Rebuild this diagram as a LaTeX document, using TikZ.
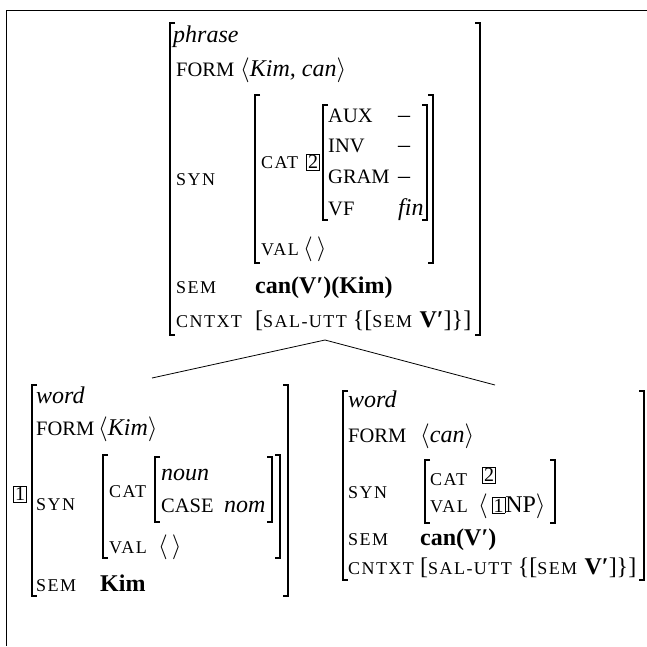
\documentclass[tikz,border=0pt]{standalone}
\usepackage{fontspec}
\setmainfont{Liberation Serif}
\newfontfamily\smcfont{Liberation Serif}[LetterSpace=8]
\usetikzlibrary{calc}
\def\ft#1{{\fontsize{20.5}{24}\selectfont #1}}
\def\smc#1{{\smcfont\fontsize{18}{20}\selectfont #1}}
\def\ang#1{$\langle$#1$\rangle$}
\def\tagbox#1{{\setlength{\fboxsep}{1pt}\setlength{\fboxrule}{0.7pt}\fbox{\fontsize{20}{20}\selectfont #1}}}
\def\lbr#1#2#3{\draw[brk] (#1+5,#2) -- (#1,#2) -- (#1,#3) -- (#1+5,#3);}
\def\rbr#1#2#3{\draw[brk] (#1-5,#2) -- (#1,#2) -- (#1,#3) -- (#1-5,#3);}

\begin{document}
\begin{tikzpicture}[x=1pt,y=-1pt,
  brk/.style={line width=1.1pt},
  lbl/.style={anchor=base west,inner sep=0pt,font=\fontsize{24}{28}\selectfont},
  tag/.style={inner sep=0pt}]
\useasboundingbox (0,0) rectangle (647,646);
\draw[line width=0.8pt] (6,646) -- (6,10) -- (647,10);
% mother: phrase
\lbr{170}{23}{335} \rbr{480}{23}{335}
\node[lbl] (m-type) at (173,42) {\itshape phrase};
\node[lbl] (m-form) at (176,76) {\ft{FORM}};
\node[lbl] (m-formv) at (240,76) {\ang{\itshape Kim, can}};
\node[lbl] (m-syn) at (176,185) {\smc{SYN}};
\lbr{255}{95}{263} \rbr{433}{95}{263}
\node[lbl] (m-cat) at (261,168) {\smc{CAT}};
\node[tag] (m-tag2) at (313,162) {\tagbox{2}};
\lbr{323}{105}{220} \rbr{427}{105}{220}
\node[lbl] (m-aux) at (328,122) {\ft{AUX}};
\node[lbl] (m-inv) at (328,152) {\ft{INV}};
\node[lbl] (m-gram) at (328,183) {\ft{GRAM}};
\node[lbl] (m-vf) at (328,215) {\ft{VF}};
\node[lbl] (m-auxv) at (398,122) {--};
\node[lbl] (m-invv) at (398,152) {--};
\node[lbl] (m-gramv) at (398,183) {--};
\node[lbl] (m-vfv) at (398,215) {\itshape fin};
\node[lbl] (m-val) at (261,255) {\smc{VAL}};
\node[lbl] (m-valv) at (303,255) {\ang{\,}};
\node[lbl] (m-sem) at (176,293) {\smc{SEM}};
\node[lbl] (m-semv) at (255,293) {\bfseries can(V′)(Kim)};
\node[lbl] (m-ctx) at (176,327) {\smc{CNTXT}};
\node[lbl] (m-ctxv) at (255,327) {[\smc{SAL-UTT} \{[\smc{SEM} \textbf{V′}]\}]};
% daughter: Kim
\lbr{32}{385}{596} \rbr{288}{385}{596}
\node[tag] (k-tag1) at (20,494) {\tagbox{1}};
\node[lbl] (k-type) at (36,403) {\itshape word};
\node[lbl] (k-form) at (36,435) {\ft{FORM}};
\node[lbl] (k-formv) at (98,435) {\ang{\itshape Kim}};
\node[lbl] (k-syn) at (36,510) {\smc{SYN}};
\lbr{103}{455}{558} \rbr{280}{455}{558}
\node[lbl] (k-cat) at (109,497) {\smc{CAT}};
\lbr{155}{457}{522} \rbr{272}{457}{522}
\node[lbl] (k-noun) at (161,480) {\itshape noun};
\node[lbl] (k-case) at (161,512) {\ft{CASE}};
\node[lbl] (k-casev) at (224,512) {\itshape nom};
\node[lbl] (k-val) at (109,553) {\smc{VAL}};
\node[lbl] (k-valv) at (158,553) {\ang{\,}};
\node[lbl] (k-sem) at (36,591) {\smc{SEM}};
\node[lbl] (k-semv) at (100,591) {\bfseries Kim};
% daughter: can
\lbr{343}{391}{580} \rbr{644}{391}{580}
\node[lbl] (c-type) at (348,407) {\itshape word};
\node[lbl] (c-form) at (348,442) {\ft{FORM}};
\node[lbl] (c-formv) at (420,442) {\ang{\itshape can}};
\node[lbl] (c-syn) at (348,498) {\smc{SYN}};
\lbr{425}{460}{523} \rbr{555}{460}{523}
\node[lbl] (c-cat) at (430,485) {\smc{CAT}};
\node[tag] (c-tag2) at (489,475) {\tagbox{2}};
\node[lbl] (c-val) at (430,512) {\smc{VAL}};
\node[lbl] (c-valv) at (478,512) {\ang{\,\tagbox{1}NP}};
\node[lbl] (c-sem) at (348,545) {\smc{SEM}};
\node[lbl] (c-semv) at (420,545) {\bfseries can(V′)};
\node[lbl] (c-ctx) at (348,574) {\smc{CNTXT}};
\node[lbl] (c-ctxv) at (420,574) {[\smc{SAL-UTT} \{[\smc{SEM} \textbf{V′}]\}]};
% tree edges
\coordinate (m-foot) at (325,340);
\coordinate (k-head) at (152,378);
\coordinate (c-head) at (495,385);
\draw[line width=0.8pt] (m-foot) -- (k-head);
\draw[line width=0.8pt] (m-foot) -- (c-head);
\end{tikzpicture}
\end{document}
